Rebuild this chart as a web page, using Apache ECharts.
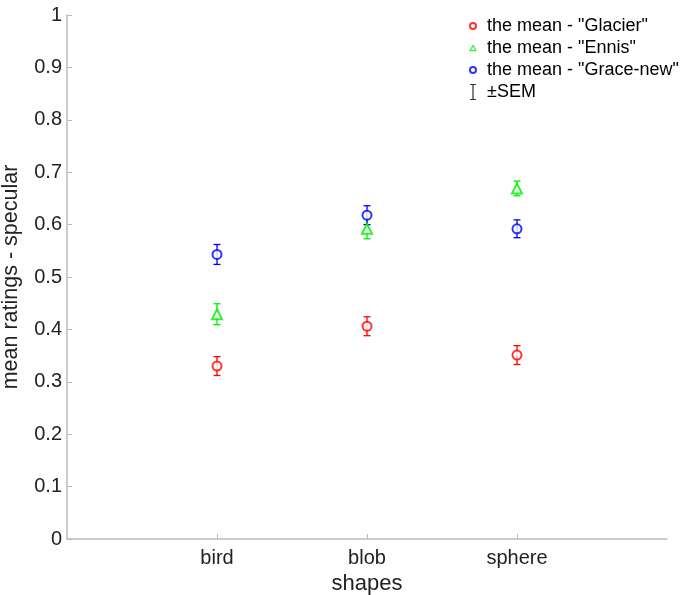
<!DOCTYPE html>
<html><head><meta charset="utf-8">
<script src="https://cdn.jsdelivr.net/npm/echarts@6/dist/echarts.min.js"></script>
<style>html,body{margin:0;padding:0;background:#fff}#c{width:683px;height:595px}</style>
</head><body><div id="c"></div>
<script>
const categories = ['bird', 'blob', 'sphere'];
const seriesNames = ['the mean - "Glacier"', 'the mean - "Ennis"', 'the mean - "Grace-new"'];
const glacierMean = [0.330, 0.406, 0.351];
const glacierSem = [0.018, 0.018, 0.018];
const ennisMean = [0.429, 0.592, 0.669];
const ennisSem = [0.020, 0.019, 0.014];
const graceMean = [0.543, 0.618, 0.592];
const graceSem = [0.019, 0.018, 0.017];
const yTicks = [0, 0.1, 0.2, 0.3, 0.4, 0.5, 0.6, 0.7, 0.8, 0.9, 1];

const colors = ['#ff0000', '#00ee00', '#0000ff'];
const means = [glacierMean, ennisMean, graceMean];
const sems = [glacierSem, ennisSem, graceSem];
const symbols = ['emptyCircle', 'emptyTriangle', 'emptyCircle'];
const font = 'Liberation Sans, Arial, Helvetica, sans-serif';
const axisColor = '#bcbcbc';
const textColor = '#222222';

const errData = [];
means.forEach((m, s) => m.forEach((v, i) => errData.push([i + 1, v - sems[s][i], v + sems[s][i], s])));

const chart = echarts.init(document.getElementById('c'), null, {renderer: 'canvas'});
const series = [{
  name: '±SEM',
  type: 'custom',
  itemStyle: {color: '#333'},
  data: errData,
  z: 1,
  renderItem: function (params, api) {
    const x = api.value(0), lo = api.value(1), hi = api.value(2), s = api.value(3);
    const p1 = api.coord([x, lo]), p2 = api.coord([x, hi]);
    const w = 3.5;
    const st = {stroke: colors[s], lineWidth: 1.3};
    return {type: 'group', children: [
      {type: 'line', shape: {x1: p1[0], y1: p1[1], x2: p2[0], y2: p2[1]}, style: st},
      {type: 'line', shape: {x1: p1[0] - w, y1: p1[1], x2: p1[0] + w, y2: p1[1]}, style: st},
      {type: 'line', shape: {x1: p2[0] - w, y1: p2[1], x2: p2[0] + w, y2: p2[1]}, style: st}
    ]};
  }
}];
means.forEach((m, s) => series.push({
  name: seriesNames[s],
  type: 'scatter',
  symbol: symbols[s],
  symbolSize: s === 1 ? 10 : 9,
  itemStyle: {color: colors[s], borderWidth: 2},
  data: m.map((v, i) => [i + 1, v]),
  z: 3
}));

chart.setOption({
  animation: false,
  grid: {left: 67, right: 16, top: 15, bottom: 56, containLabel: false, outerBoundsMode: 'none'},
  legend: {
    orient: 'vertical', left: 469, top: 15, itemGap: 0, padding: 0,
    itemWidth: 6, itemHeight: 16, symbolKeepAspect: true,
    textStyle: {fontFamily: font, fontSize: 18, color: '#000', lineHeight: 22, padding: [0, 0, 0, 6]},
    data: [
      {name: seriesNames[0], icon: 'emptyCircle'},
      {name: seriesNames[1], icon: 'path://M3,0 L6,5.2 L0,5.2 Z', itemStyle: {color: '#fff', borderColor: colors[1], borderWidth: 1.2}},
      {name: seriesNames[2], icon: 'emptyCircle'},
      {name: '±SEM', icon: 'path://M0,0 L6,0 L6,1 L3.6,1 L3.6,15 L6,15 L6,16 L0,16 L0,15 L2.4,15 L2.4,1 L0,1 Z', itemStyle: {color: '#333', borderWidth: 0}}
    ]
  },
  xAxis: {
    type: 'value', min: 0, max: 4, interval: 1,
    name: 'shapes', nameLocation: 'middle', nameGap: 28,
    nameTextStyle: {fontFamily: font, fontSize: 22, color: textColor},
    axisLine: {show: true, lineStyle: {color: axisColor, width: 1.5}},
    axisTick: {show: true, inside: true, length: 5, customValues: [1, 2, 3], lineStyle: {color: axisColor}},
    axisLabel: {customValues: [1, 2, 3], formatter: v => categories[v - 1] || '', fontFamily: font, fontSize: 20, color: textColor, margin: 9},
    splitLine: {show: false}
  },
  yAxis: {
    type: 'value', min: 0, max: 1, interval: 0.1,
    name: 'mean ratings - specular', nameLocation: 'middle', nameGap: 45, nameRotate: 90,
    nameTextStyle: {fontFamily: font, fontSize: 21.5, color: textColor},
    axisLine: {show: true, lineStyle: {color: axisColor, width: 1.5}},
    axisTick: {show: true, inside: true, length: 5, lineStyle: {color: axisColor}},
    axisLabel: {customValues: yTicks, formatter: v => String(Math.round(v * 10) / 10), fontFamily: font, fontSize: 20, color: textColor, margin: 5},
    splitLine: {show: false}
  },
  series: series
});
</script></body></html>
